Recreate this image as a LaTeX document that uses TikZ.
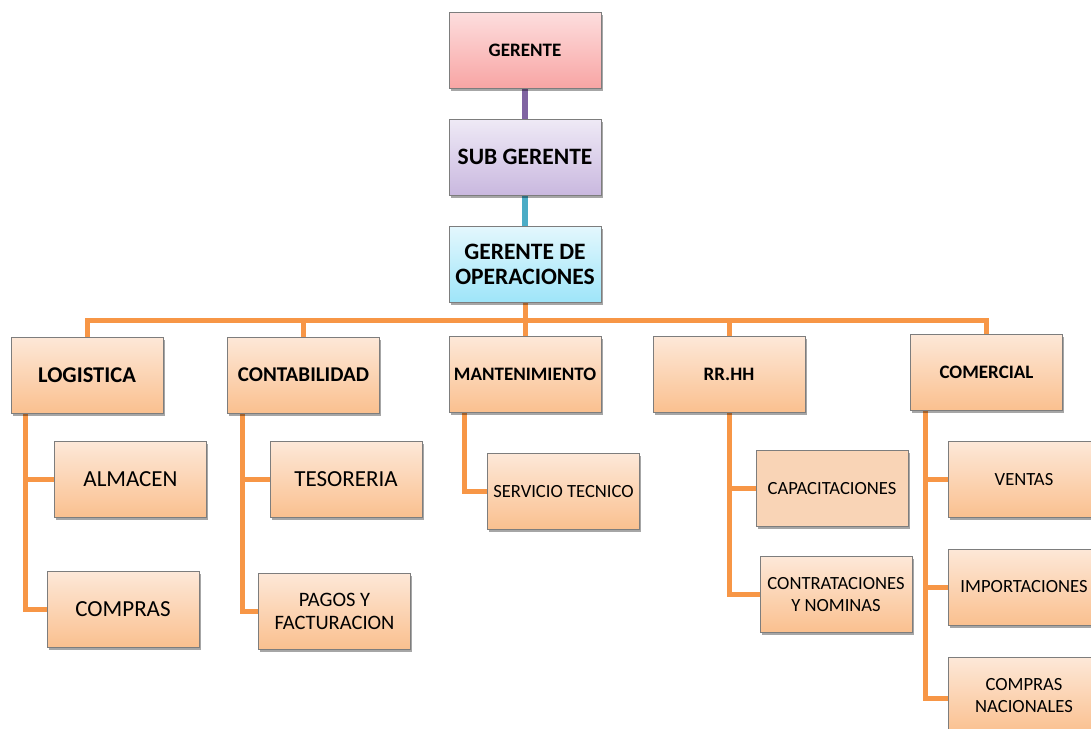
\documentclass[tikz,border=0pt]{standalone}
\usepackage{fontspec}
\setmainfont{Carlito}
\usetikzlibrary{shadows,backgrounds}
\definecolor{orTop}{RGB}{253,232,216}
\definecolor{orBot}{RGB}{250,192,143}
\definecolor{orFlat}{RGB}{249,212,182}
\definecolor{pkTop}{RGB}{253,222,222}
\definecolor{pkBot}{RGB}{248,165,164}
\definecolor{lvTop}{RGB}{239,234,246}
\definecolor{lvBot}{RGB}{201,184,223}
\definecolor{cyTop}{RGB}{227,247,253}
\definecolor{cyBot}{RGB}{158,229,249}
\definecolor{lineOr}{RGB}{247,150,70}
\definecolor{linePu}{RGB}{128,100,162}
\definecolor{lineCy}{RGB}{75,172,198}
\definecolor{edge}{RGB}{125,125,125}
\tikzset{
  box/.style={rectangle, draw=edge, line width=0.9pt, inner sep=0pt,
    minimum width=152pt, minimum height=76pt, align=center,
    drop shadow={shadow xshift=1.5pt, shadow yshift=-2.5pt, opacity=0.35, fill=black}},
  orbox/.style={box, top color=orTop, bottom color=orBot},
  flatbox/.style={box, fill=orFlat},
  pkbox/.style={box, top color=pkTop, bottom color=pkBot},
  lvbox/.style={box, top color=lvTop, bottom color=lvBot},
  cybox/.style={box, top color=cyTop, bottom color=cyBot},
  conn/.style={draw=lineOr, line width=5pt},
  fA/.style={font=\fontsize{19}{22}\selectfont\bfseries},
  fB/.style={font=\fontsize{23.5}{25}\selectfont\bfseries},
  fC/.style={font=\fontsize{23}{25}\selectfont},
  fD/.style={font=\fontsize{18.6}{21.5}\selectfont},
}
\begin{document}
\begin{tikzpicture}[x=1pt,y=-1pt]
\useasboundingbox (0,0) rectangle (1091,728);
\clip (0,0) rectangle (1091,728);

% top of the hierarchy
\node[pkbox, fA] (ger) at (525,50) {GERENTE};
\node[lvbox, fB] (sub) at (525,157) {SUB GERENTE};
\node[cybox, fB] (ops) at (525,264.5) {GERENTE DE\\OPERACIONES};

% departments
\node[orbox, font=\fontsize{22.5}{25}\selectfont\bfseries] (log) at (87,375) {LOGISTICA};
\node[orbox, font=\fontsize{21}{24}\selectfont\bfseries] (cont) at (303.5,375) {CONTABILIDAD};
\node[orbox, fA] (mant) at (525,374.5) {MANTENIMIENTO};
\node[orbox, fA] (rrhh) at (729,374.5) {RR.HH};
\node[orbox, fA] (com) at (986.5,372) {COMERCIAL};

% sections
\node[orbox, fC] (alm) at (130.5,479.5) {ALMACEN};
\node[orbox, fC] (compras) at (123,609.5) {COMPRAS};
\node[orbox, fC] (tes) at (346,479.5) {TESORERIA};
\node[orbox, font=\fontsize{20.5}{23}\selectfont] (pagos) at (334.5,611) {PAGOS Y\\FACTURACION};
\node[orbox, fD] (serv) at (563.5,491.5) {SERVICIO TECNICO};
\node[flatbox, fD] (cap) at (832,488.5) {CAPACITACIONES};
\node[orbox, fD] (contr) at (836,594.5) {CONTRATACIONES\\Y NOMINAS};
\node[orbox, fD] (vent) at (1024,479.5) {VENTAS};
\node[orbox, fD] (imp) at (1024,587) {IMPORTACIONES};
\node[orbox, fD] (cn) at (1024,695.5) {COMPRAS\\NACIONALES};

\coordinate (bus) at (525,320);

\begin{scope}[on background layer]
  \fill[white] (0,0) rectangle (1091,728);
  \draw[draw=linePu, line width=6pt] (ger.south) -- (sub.north);
  \draw[draw=lineCy, line width=6pt] (sub.south) -- (ops.north);
  \draw[conn] (ops.south) -- (bus);
  \draw[conn] (log.north) |- (bus);
  \draw[conn] (cont.north) |- (bus);
  \draw[conn] (mant.north) -- (bus);
  \draw[conn] (rrhh.north) |- (bus);
  \draw[conn] (com.north) |- (bus);

  \draw[conn] ([xshift=15pt]log.south west) |- (alm.west);
  \draw[conn] ([xshift=15pt]log.south west) |- (compras.west);
  \draw[conn] ([xshift=15pt]cont.south west) |- (tes.west);
  \draw[conn] ([xshift=15pt]cont.south west) |- (pagos.west);
  \draw[conn] ([xshift=16pt]mant.south west) |- (serv.west);
  \draw[conn] (rrhh.south) |- (cap.west);
  \draw[conn] (rrhh.south) |- (contr.west);
  \draw[conn] ([xshift=15pt]com.south west) |- (vent.west);
  \draw[conn] ([xshift=15pt]com.south west) |- (imp.west);
  \draw[conn] ([xshift=15pt]com.south west) |- ([yshift=-2.5pt]cn.west);
\end{scope}
\end{tikzpicture}
\end{document}
